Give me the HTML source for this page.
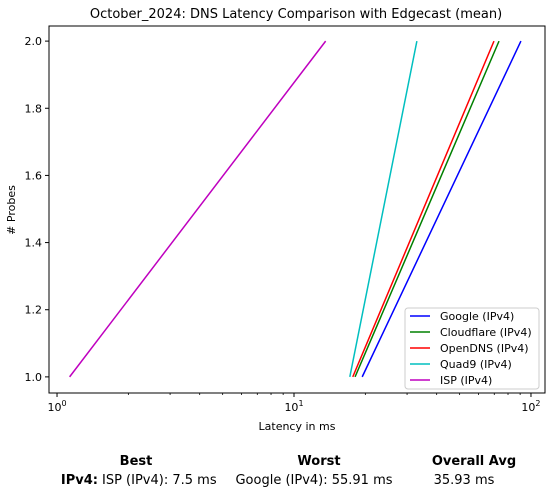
<!DOCTYPE html>
<html><head><meta charset="utf-8"><style>
body{margin:0;background:#fff;width:551px;height:496px;overflow:hidden;font-family:"Liberation Sans","DejaVu Sans",sans-serif}
svg text{font-family:"DejaVu Sans","Liberation Sans",sans-serif}
</style></head><body>
<svg id="chart" width="551" height="496" xmlns="http://www.w3.org/2000/svg"></svg>
<script>
const seriesNames=["Google (IPv4)","Cloudflare (IPv4)","OpenDNS (IPv4)","Quad9 (IPv4)","ISP (IPv4)"];
const seriesColors=["#0000ff","#008000","#ff0000","#00bfbf","#bf00bf"];
const latencyStart=[19.4,18.1,17.7,17.2,1.13];
const latencyEnd=[90.7,73.3,69.8,33.0,13.6];
const probeStart=[1,1,1,1,1];
const probeEnd=[2,2,2,2,2];
const yTicks=[1.0,1.2,1.4,1.6,1.8,2.0];
const xTickExps=[0,1,2];

const svg=document.getElementById('chart');
const NS="http://www.w3.org/2000/svg";
const L=49,R=545,T=26,B=393;
const xMinL=Math.log10(0.925),xMaxL=Math.log10(114.6);
const yMin=0.952,yMax=2.045;
function xs(v){return L+(Math.log10(v)-xMinL)/(xMaxL-xMinL)*(R-L);}
function ys(v){return B-(v-yMin)/(yMax-yMin)*(B-T);}
function mk(tag,attrs,parent){const e=document.createElementNS(NS,tag);for(const k in attrs)e.setAttribute(k,attrs[k]);(parent||svg).appendChild(e);return e;}

const title=mk('text',{x:296,y:18,'text-anchor':'middle','font-size':13});
title.textContent="October_2024: DNS Latency Comparison with Edgecast (mean)";



for(const t of yTicks){
  const y=ys(t);
  mk('line',{x1:L-4,x2:L,y1:y,y2:y,stroke:'#000'});
  const tx=mk('text',{x:L-7,y:y+4,'text-anchor':'end','font-size':11});
  tx.textContent=t.toFixed(1);
  
  
}
for(const e of xTickExps){
  const x=xs(Math.pow(10,e));
  mk('line',{x1:x,x2:x,y1:B,y2:B+4,stroke:'#000'});
  const tx=mk('text',{x:x,y:B+18,'text-anchor':'middle','font-size':11});
  tx.innerHTML='10<tspan dy="-5" font-size="8">'+e+'</tspan>';
  
  
}
for(let e=-1;e<=2;e++){for(let m=2;m<=9;m++){const v=m*Math.pow(10,e);if(v<0.925||v>114.6)continue;const x=xs(v);mk('line',{x1:x,x2:x,y1:B,y2:B+2,stroke:'#000','stroke-width':0.8});}}

for(let i=0;i<seriesNames.length;i++){
  const ln=mk('line',{x1:xs(latencyStart[i]),y1:ys(probeStart[i]),x2:xs(latencyEnd[i]),y2:ys(probeEnd[i]),stroke:seriesColors[i],'stroke-width':1.5});
  
  
}
mk('rect',{x:L,y:T,width:R-L,height:B-T,fill:'none',stroke:'#000','stroke-width':1});

const xl=mk('text',{x:(L+R)/2,y:430,'text-anchor':'middle','font-size':11});
xl.textContent="Latency in ms";


const yl=mk('text',{x:15,y:210,'text-anchor':'middle','font-size':11,transform:'rotate(-90 15 210)'});
yl.textContent="# Probes";



const lg=mk('g',{});


mk('rect',{x:405,y:308,width:134,height:81,rx:3,fill:'#fff',stroke:'#ccc'},lg);
for(let i=0;i<seriesNames.length;i++){
  const y=316+i*16;
  mk('line',{x1:410,x2:430,y1:y,y2:y,stroke:seriesColors[i],'stroke-width':1.5},lg);
  const t=mk('text',{x:440,y:y+4,'font-size':11},lg);
  t.textContent=seriesNames[i];
  
  
}

function txt(x,y,s,anchor,w,name){const t=mk('text',{x:x,y:y,'text-anchor':anchor,'font-size':13,'font-weight':w});t.textContent=s;return t;}
txt(136,465,"Best",'middle','bold','best-header');
txt(319,465,"Worst",'middle','bold','worst-header');
txt(474,465,"Overall Avg",'middle','bold','avg-header');
txt(98,484,"IPv4:",'end','bold','row-label');
txt(102,484,"ISP (IPv4): 7.5 ms",'start','normal','best-value');
txt(314,484,"Google (IPv4): 55.91 ms",'middle','normal','worst-value');
txt(464,484,"35.93 ms",'middle','normal','avg-value');
</script>
</body></html>
